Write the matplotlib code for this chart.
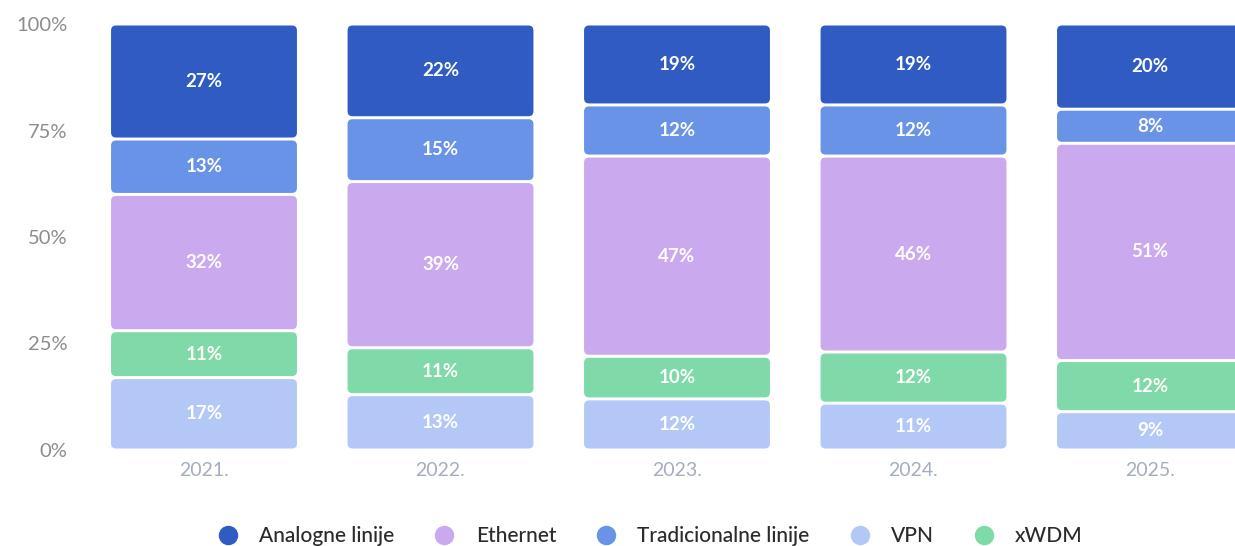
import numpy as np
import matplotlib.pyplot as plt
from matplotlib.patches import FancyBboxPatch
from matplotlib.lines import Line2D

plt.rcParams['font.family'] = ['Lato', 'DejaVu Sans']

years = ['2021.', '2022.', '2023.', '2024.', '2025.']
series = ['VPN', 'xWDM', 'Ethernet', 'Tradicionalne linije', 'Analogne linije']
vpn = [17, 13, 12, 11, 9]
xwdm = [11, 11, 10, 12, 12]
ethernet = [32, 39, 47, 46, 51]
tradicionalne = [13, 15, 12, 12, 8]
analogne = [27, 22, 19, 19, 20]
values = [vpn, xwdm, ethernet, tradicionalne, analogne]
colors = ['#b4c8f7', '#7fd9a9', '#cba9ef', '#6993e6', '#2f5bc3']

legend_order = ['Analogne linije', 'Ethernet', 'Tradicionalne linije', 'VPN', 'xWDM']

fig = plt.figure(figsize=(12.35, 5.46), dpi=100)
# axes in pixel terms: left 80, right 1235, bottom 96, top 522
ax = fig.add_axes([80/1235, 96/546, 1155/1235, 426/546])

x = np.arange(len(years))
width = 0.786
gap = 0.7  # vertical gap between segments (in %)

px_x = 1/236.5      # data units per pixel in x
px_y = 100/426      # data units per pixel in y
aspect = px_y/px_x

bottom = np.zeros(len(years))
for name, vals, col in zip(series, values, colors):
    vals = np.array(vals, dtype=float)
    bars = ax.bar(x, vals, width, bottom=bottom, color=col)
    for b, v in zip(bars, vals):
        bx, by, bw, bh = b.get_x(), b.get_y(), b.get_width(), b.get_height()
        b.remove()
        box = FancyBboxPatch((bx, by + gap/2), bw, bh - gap,
                             boxstyle='round,pad=0,rounding_size=%f' % (5*px_x),
                             mutation_aspect=aspect,
                             facecolor=col, edgecolor='none')
        ax.add_patch(box)
        ax.text(bx + bw/2, by + bh/2, '%d%%' % v, ha='center', va='center',
                color='white', fontsize=13.5, fontweight='bold')
    bottom += vals

ax.set_xlim(-(204-80)/236.5, (1235-204)/236.5)
ax.set_ylim(0, 100)
ax.set_yticks([0, 25, 50, 75, 100])
ax.set_yticklabels(['0%', '25%', '50%', '75%', '100%'], color='#8c8c8c', fontsize=14.5)
ax.set_xticks(x)
ax.set_xticklabels(years, color='#a3adc2', fontsize=14)
ax.tick_params(axis='both', length=0)
ax.tick_params(axis='y', pad=9)
ax.tick_params(axis='x', pad=9)
for s in ax.spines.values():
    s.set_visible(False)

handles = []
for name in legend_order:
    col = colors[series.index(name)]
    handles.append(Line2D([], [], marker='o', linestyle='none', markersize=14,
                          markerfacecolor=col, markeredgecolor='none', label=name))
fig.legend(handles=handles, loc='center', bbox_to_anchor=(645/1235, 1 - 536/546),
           ncol=5, frameon=False, handletextpad=0.5, columnspacing=1.4,
           labelcolor='#2b2b2b', prop={'size': 15, 'weight': 'medium'})

fig.savefig('out.png', dpi=100)
